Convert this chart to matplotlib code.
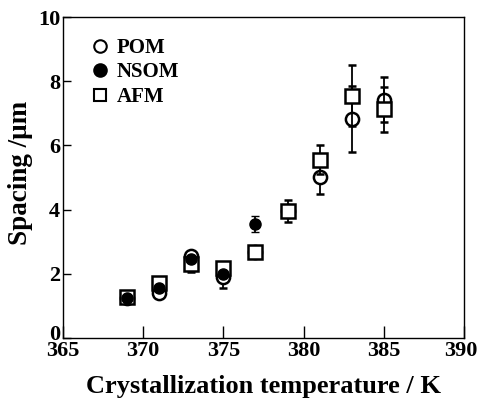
import matplotlib
matplotlib.use('Agg')
import matplotlib.pyplot as plt
import matplotlib.transforms as mtransforms
from matplotlib.lines import Line2D

plt.rcParams['font.family'] = ['Liberation Serif', 'DejaVu Serif']
plt.rcParams['font.weight'] = 'bold'

# POM (open circles)
pom_t = [369, 371, 373, 375, 377, 379, 381, 383, 385]
pom_s = [1.25, 1.41, 2.55, 1.90, 2.67, 3.95, 5.02, 6.83, 7.43]
pom_err = [0, 0, 0, 0.35, 0, 0, 0.53, 1.02, 0.70]

# NSOM (filled circles)
nsom_t = [369, 371, 373, 375, 377]
nsom_s = [1.24, 1.55, 2.46, 2.00, 3.55]
nsom_err = [0, 0, 0, 0, 0.25]

# AFM (open squares)
afm_t = [369, 371, 373, 375, 377, 379, 381, 383, 385]
afm_s = [1.28, 1.72, 2.32, 2.19, 2.67, 3.95, 5.56, 7.55, 7.12]
afm_err = [0, 0, 0.25, 0, 0, 0.35, 0.45, 0.95, 0.70]

fig = plt.figure(figsize=(4.79, 4.01), dpi=100)
ax = fig.add_axes([0.1315, 0.157, 0.8372, 0.8005])

ax.errorbar(pom_t, pom_s, yerr=pom_err, fmt='o', ms=9.5, mfc='white', mec='black',
            mew=1.8, ecolor='black', elinewidth=1.3, capsize=3, capthick=1.3, zorder=2)
ax.errorbar(afm_t, afm_s, yerr=afm_err, fmt='s', ms=10, mfc='white', mec='black',
            mew=1.8, ecolor='black', elinewidth=1.3, capsize=3, capthick=1.3, zorder=3)
ax.errorbar(nsom_t, nsom_s, yerr=nsom_err, fmt='o', ms=8, mfc='black', mec='black',
            mew=1.0, ecolor='black', elinewidth=1.3, capsize=3, capthick=1.3, zorder=4)

ax.set_xlim(365, 390)
ax.set_ylim(0, 10)
ax.set_xticks([365, 370, 375, 380, 385, 390])
ax.set_yticks([0, 2, 4, 6, 8, 10])
ax.tick_params(axis='x', direction='in', length=9, width=1, pad=2, labelsize=16)
ax.tick_params(axis='y', direction='in', length=6, width=1, pad=2, labelsize=16)
for lab in ax.get_xticklabels() + ax.get_yticklabels():
    lab.set_fontweight('bold')
for sp in ax.spines.values():
    sp.set_linewidth(1.0)

# lift the "0" a bit, as in the original, so it clears "365"
zero = ax.get_yticklabels()[0]
zero.set_transform(zero.get_transform() +
                   mtransforms.ScaledTranslation(0, 6 / 100, fig.dpi_scale_trans))
# keep "390" inside the canvas
last = ax.get_xticklabels()[-1]
last.set_transform(last.get_transform() +
                   mtransforms.ScaledTranslation(-3 / 100, 0, fig.dpi_scale_trans))

ax.set_xlabel('Crystallization temperature / K', fontsize=19, fontweight='bold', labelpad=10)
ax.set_ylabel('Spacing /\u03bcm', fontsize=19.5, fontweight='bold')
ax.yaxis.set_label_coords(-0.075, 0.516)

handles = [
    Line2D([], [], ls='none', marker='o', ms=9, mfc='white', mec='black', mew=1.5),
    Line2D([], [], ls='none', marker='o', ms=9, mfc='black', mec='black', mew=1.5),
    Line2D([], [], ls='none', marker='s', ms=9, mfc='white', mec='black', mew=1.5),
]
ax.legend(handles, ['POM', 'NSOM', 'AFM'], loc='upper left', frameon=False,
          prop={'size': 15, 'weight': 'bold'}, handlelength=0.7, handletextpad=0.45,
          labelspacing=0.22, borderaxespad=0.6, bbox_to_anchor=(0.022, 1.0))

fig.savefig('out.png', dpi=100)
